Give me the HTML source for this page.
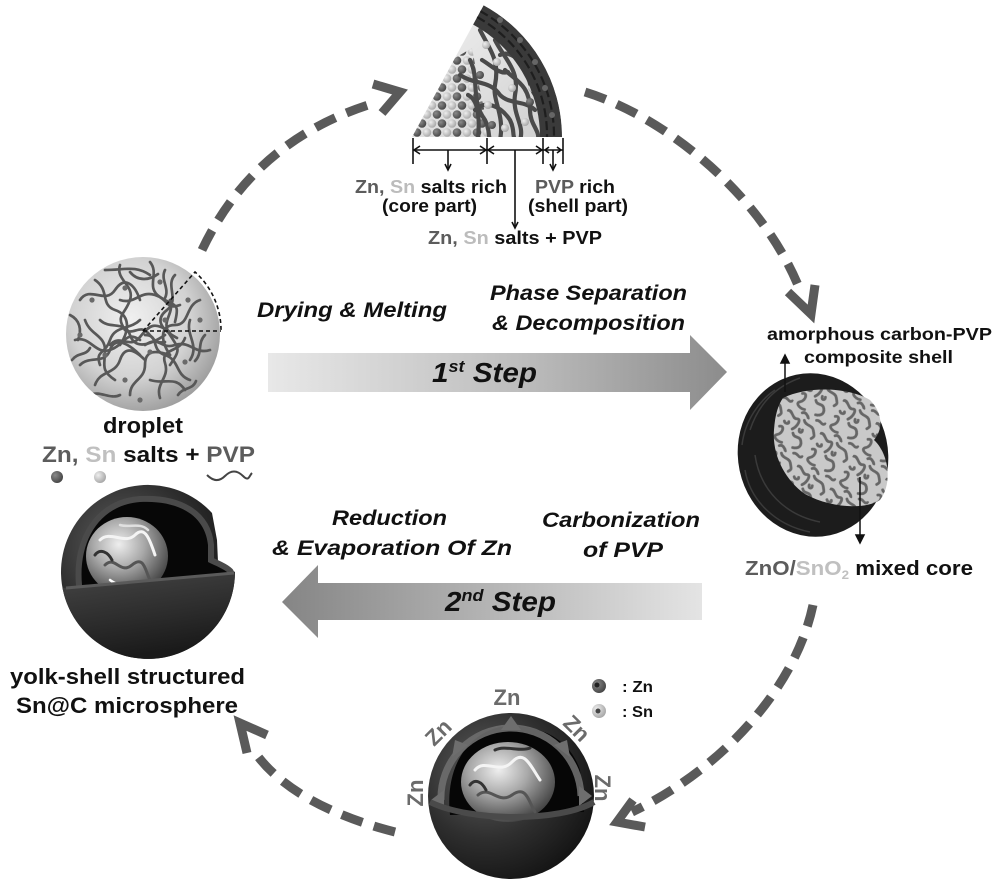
<!DOCTYPE html>
<html><head><meta charset="utf-8"><style>
html,body{margin:0;padding:0;background:#fff;}
svg{display:block;}
text{font-family:"Liberation Sans",Arial,sans-serif;font-weight:bold;}
.it{font-style:italic;}
</style></head><body>
<svg width="1000" height="885" viewBox="0 0 1000 885" xmlns="http://www.w3.org/2000/svg">
<defs>
 <linearGradient id="g1" gradientUnits="userSpaceOnUse" x1="268" y1="0" x2="727" y2="0">
  <stop offset="0" stop-color="#e8e8e8"/><stop offset="0.55" stop-color="#bdbdbd"/><stop offset="1" stop-color="#8c8c8c"/>
 </linearGradient>
 <linearGradient id="g2" gradientUnits="userSpaceOnUse" x1="282" y1="0" x2="702" y2="0">
  <stop offset="0" stop-color="#858585"/><stop offset="0.5" stop-color="#b5b5b5"/><stop offset="1" stop-color="#e4e4e4"/>
 </linearGradient>
 <radialGradient id="drop" cx="0.42" cy="0.4" r="0.65">
  <stop offset="0" stop-color="#f0f0f0"/><stop offset="0.6" stop-color="#d2d2d2"/><stop offset="1" stop-color="#999"/>
 </radialGradient>
 <radialGradient id="dark" cx="0.35" cy="0.35" r="0.75">
  <stop offset="0" stop-color="#5e5e5e"/><stop offset="0.55" stop-color="#2e2e2e"/><stop offset="1" stop-color="#111"/>
 </radialGradient>
 <linearGradient id="low" x1="0" y1="0" x2="0.3" y2="1">
  <stop offset="0" stop-color="#454545"/><stop offset="0.6" stop-color="#2c2c2c"/><stop offset="1" stop-color="#1a1a1a"/>
 </linearGradient>
 <radialGradient id="metal" cx="0.4" cy="0.35" r="0.7">
  <stop offset="0" stop-color="#eee"/><stop offset="0.45" stop-color="#a8a8a8"/><stop offset="1" stop-color="#3c3c3c"/>
 </radialGradient>
 <radialGradient id="ballD" cx="0.35" cy="0.35" r="0.7">
  <stop offset="0" stop-color="#8a8a8a"/><stop offset="1" stop-color="#444"/>
 </radialGradient>
 <radialGradient id="ballL" cx="0.35" cy="0.35" r="0.7">
  <stop offset="0" stop-color="#eee"/><stop offset="1" stop-color="#a5a5a5"/>
 </radialGradient>
 <linearGradient id="wbg" x1="0" y1="0" x2="1" y2="1">
  <stop offset="0" stop-color="#f2f2f2"/><stop offset="1" stop-color="#cfcfcf"/>
 </linearGradient>
 <pattern id="balls" patternUnits="userSpaceOnUse" width="20" height="18" x="412" y="137">
  <circle cx="5" cy="13.5" r="4.3" fill="url(#ballD)"/>
  <circle cx="15" cy="13.5" r="4.3" fill="url(#ballL)"/>
  <circle cx="0" cy="4.5" r="4.3" fill="url(#ballL)"/>
  <circle cx="20" cy="4.5" r="4.3" fill="url(#ballL)"/>
  <circle cx="10" cy="4.5" r="4.3" fill="url(#ballD)"/>
 </pattern>
 <pattern id="worm" patternUnits="userSpaceOnUse" width="40" height="40" patternTransform="rotate(35)">
  <rect width="40" height="40" fill="#c9c9c9"/>
  <g fill="none" stroke="#666" stroke-width="2.8" stroke-linecap="round">
   <path d="M1,4 C5,1 9,9 13,6 S18,12 15,17"/>
   <path d="M20,3 C24,7 29,2 33,6 S38,10 36,14"/>
   <path d="M3,22 C7,18 10,26 6,30 S9,36 14,34"/>
   <path d="M18,20 C22,24 25,18 29,22 S31,30 26,32"/>
   <path d="M24,12 C26,15 22,17 21,13"/>
   <path d="M30,36 C33,33 37,38 39,34"/>
   <path d="M8,13 C10,15 6,17 4,15"/>
   <path d="M14,38 C16,35 20,37 22,39"/>
  </g>
 </pattern>
 <clipPath id="cDrop"><circle cx="143" cy="334" r="77"/></clipPath>
 <clipPath id="cWedge"><path d="M412,137 L483.6,5.2 A150,150 0 0 1 562,137 Z"/></clipPath>
 <clipPath id="cYolk1"><ellipse cx="127" cy="556" rx="41" ry="39"/></clipPath>
 <clipPath id="cYolk2"><ellipse cx="508" cy="782" rx="47" ry="40"/></clipPath>
</defs>

<!-- ===== Top wedge ===== -->
<path d="M412,137 L483.6,5.2 A150,150 0 0 1 562,137 Z" fill="url(#wbg)"/>
<g clip-path="url(#cWedge)">
 <path d="M412,137 L455,58 L472,48 L480,90 L490,137 Z" fill="url(#balls)"/>
 <g fill="none" stroke="#4a4a4a" stroke-width="4.2" stroke-linecap="round">
  <path d="M470,60 C480,80 470,100 485,120 C490,130 488,135 490,140"/>
  <path d="M480,30 C490,50 500,60 495,85 C492,100 505,115 500,140"/>
  <path d="M495,40 C505,60 520,70 515,95 C512,115 525,125 520,140"/>
  <path d="M460,75 C475,85 490,80 500,95 C510,105 525,100 535,110"/>
  <path d="M475,110 C485,100 500,105 510,120 C515,130 512,135 515,140"/>
  <path d="M490,25 C500,35 510,30 520,45 C530,60 525,80 535,95"/>
  <path d="M505,70 C515,80 530,85 530,110 C530,125 540,130 538,140"/>
  <path d="M468,95 C478,100 480,115 478,140"/>
  <path d="M500,55 C510,50 520,60 528,70"/>
  <path d="M482,60 C492,66 500,75 508,72"/>
 </g>
 <g fill="url(#ballL)">
  <circle cx="497" cy="62" r="4"/><circle cx="512" cy="88" r="4"/><circle cx="525" cy="122" r="4"/>
  <circle cx="488" cy="105" r="4"/><circle cx="505" cy="128" r="4"/><circle cx="520" cy="58" r="4"/>
  <circle cx="486" cy="45" r="4"/><circle cx="532" cy="88" r="4"/>
 </g>
 <g fill="url(#ballD)"><circle cx="480" cy="75" r="4"/><circle cx="530" cy="102" r="4"/><circle cx="492" cy="125" r="4"/></g>
 <path d="M473,24.5 L483.6,5.2 A150,150 0 0 1 562,137 L540,137 A128,128 0 0 0 473,24.5 Z" fill="#3a3a3a"/>
 <g fill="none" stroke="#1e1e1e" stroke-width="2.2" stroke-dasharray="9 4">
  <path d="M477,17 A135,135 0 0 1 547,137"/>
  <path d="M480,11 A142,142 0 0 1 554,137"/>
 </g>
 <g fill="#666"><circle cx="500" cy="20" r="3"/><circle cx="520" cy="40" r="3"/><circle cx="535" cy="62" r="3"/><circle cx="545" cy="88" r="3"/><circle cx="552" cy="115" r="3"/></g>
</g>

<!-- dimension lines -->
<g stroke="#111" stroke-width="1.6" fill="none">
 <line x1="413" y1="150" x2="563" y2="150"/>
 <line x1="413" y1="138" x2="413" y2="164"/>
 <line x1="487" y1="138" x2="487" y2="164"/>
 <line x1="543" y1="138" x2="543" y2="164"/>
 <line x1="563" y1="138" x2="563" y2="164"/>
 <polyline points="420,146 414,150 420,154"/>
 <polyline points="480,146 486,150 480,154"/>
 <polyline points="494,146 488,150 494,154"/>
 <polyline points="536,146 542,150 536,154"/>
 <polyline points="549,147 545,150 549,153"/>
 <polyline points="557,147 561,150 557,153"/>
 <line x1="448" y1="150" x2="448" y2="170"/>
 <polyline points="445,164 448,170 451,164"/>
 <line x1="515" y1="150" x2="515" y2="228"/>
 <polyline points="512,222 515,228 518,222"/>
 <line x1="553" y1="150" x2="553" y2="170"/>
 <polyline points="550,164 553,170 556,164"/>
</g>

<text x="355" y="193" font-size="18" textLength="152" lengthAdjust="spacingAndGlyphs"><tspan fill="#5c5c5c">Zn, </tspan><tspan fill="#bcbcbc">Sn </tspan><tspan fill="#111">salts rich</tspan></text>
<text x="382" y="212" font-size="18" fill="#111" textLength="95" lengthAdjust="spacingAndGlyphs">(core part)</text>
<text x="535" y="193" font-size="18" textLength="80" lengthAdjust="spacingAndGlyphs"><tspan fill="#5c5c5c">PVP</tspan><tspan fill="#111"> rich</tspan></text>
<text x="528" y="212" font-size="18" fill="#111" textLength="100" lengthAdjust="spacingAndGlyphs">(shell part)</text>
<text x="428" y="244" font-size="18" textLength="174" lengthAdjust="spacingAndGlyphs"><tspan fill="#5c5c5c">Zn, </tspan><tspan fill="#bcbcbc">Sn </tspan><tspan fill="#111">salts + PVP</tspan></text>

<!-- ===== dashed cycle arcs ===== -->
<g fill="none" stroke="#5a5a5a" stroke-width="9" stroke-dasharray="22 12">
 <path d="M202,250 Q255,138 378,102"/>
 <path d="M585,92 C660,115 760,190 800,290"/>
 <path d="M813,605 C795,690 720,770 632,812"/>
 <path d="M395,832 C340,818 280,792 252,748"/>
</g>
<g fill="none" stroke="#5a5a5a" stroke-width="9" stroke-linejoin="miter">
 <polyline points="373,84 400,92 382,113"/>
 <polyline points="788,292 811,314 815,285"/>
 <polyline points="633,800 617,822 645,827"/>
 <polyline points="267,735 240,723 247,753"/>
</g>

<!-- ===== Droplet ===== -->
<circle cx="143" cy="334" r="77" fill="url(#drop)"/>
<g clip-path="url(#cDrop)" fill="none" stroke="#585858" stroke-width="2.7" stroke-linecap="round">
 <path d="M80,300 c10,-15 25,5 35,-10 s20,-5 25,10"/>
 <path d="M95,280 c15,10 5,25 20,30 s15,20 5,35"/>
 <path d="M120,265 c-5,15 15,20 10,35 s-15,15 -5,30"/>
 <path d="M150,262 c10,12 -5,25 10,35 s20,5 15,25"/>
 <path d="M175,275 c-10,10 5,25 -8,35 s-5,20 10,28"/>
 <path d="M200,300 c-15,5 -10,25 -25,25 s-15,15 -5,30"/>
 <path d="M75,340 c15,-5 20,15 35,10 s15,-20 30,-10"/>
 <path d="M80,365 c10,-10 25,0 30,-15 s20,-5 30,5"/>
 <path d="M95,385 c5,-15 20,-10 25,-25 s15,-10 25,0"/>
 <path d="M130,395 c0,-15 15,-15 15,-30 s10,-15 25,-10"/>
 <path d="M160,398 c-5,-15 10,-20 5,-35 s15,-10 20,-25"/>
 <path d="M190,380 c-15,-5 -10,-20 -25,-25 s-5,-20 -20,-20"/>
 <path d="M210,350 c-15,5 -20,-10 -35,-5 s-15,-10 -30,0"/>
 <path d="M100,320 c10,10 25,0 30,15 s20,10 35,0"/>
 <path d="M110,345 c10,-12 20,5 30,-8 s15,-15 30,-5"/>
 <path d="M85,320 c5,15 20,15 20,30 s-5,20 10,30"/>
 <path d="M170,300 c5,15 -10,20 0,35 s10,15 0,30"/>
 <path d="M120,300 c15,5 20,-10 35,-5 s10,15 25,10"/>
 <path d="M140,320 c-10,10 -25,5 -30,20 s-15,10 -10,25"/>
 <path d="M190,320 c-5,15 10,25 0,40"/>
 <path d="M105,270 c20,0 30,-5 45,5"/>
 <path d="M150,380 c15,5 25,-5 35,10"/>
 <path d="M70,315 c10,5 12,15 8,25"/>
 <path d="M205,335 c-8,8 -2,18 -10,26"/>
 <path d="M130,272 c8,10 20,8 28,2"/>
 <path d="M90,395 c10,-5 20,5 30,0"/>
 <path d="M165,270 c-5,10 5,18 0,28"/>
 <path d="M125,330 c8,5 15,-5 22,2 s8,12 18,10"/>
 <path d="M72,360 c6,-8 14,-4 18,-12"/>
 <path d="M178,395 c5,-8 15,-5 18,-14"/>
</g>
<g fill="#6a6a6a">
 <circle cx="92" cy="300" r="2.6"/><circle cx="125" cy="288" r="2.6"/><circle cx="160" cy="282" r="2.6"/><circle cx="188" cy="300" r="2.6"/>
 <circle cx="105" cy="355" r="2.6"/><circle cx="150" cy="352" r="2.6"/><circle cx="185" cy="362" r="2.6"/><circle cx="125" cy="380" r="2.6"/>
 <circle cx="165" cy="320" r="2.6"/><circle cx="80" cy="335" r="2.6"/><circle cx="140" cy="400" r="2.6"/><circle cx="200" cy="320" r="2.6"/>
</g>
<g fill="none" stroke="#111" stroke-width="1.6" stroke-dasharray="4 3">
 <path d="M143,331 L221,331 M143,331 L195,272 A78,78 0 0 1 221,331"/>
</g>

<text x="103" y="433" font-size="22" fill="#111" textLength="80" lengthAdjust="spacingAndGlyphs">droplet</text>
<text x="42" y="462" font-size="22" textLength="213" lengthAdjust="spacingAndGlyphs"><tspan fill="#5c5c5c">Zn, </tspan><tspan fill="#c0c0c0">Sn </tspan><tspan fill="#111">salts + </tspan><tspan fill="#5c5c5c">PVP</tspan></text>
<circle cx="57" cy="477" r="6" fill="url(#ballD)"/>
<circle cx="100" cy="477" r="6" fill="url(#ballL)"/>
<path d="M207,475 c6,6 12,7 18,1 s12,-6 18,0 s6,0 9,-3" fill="none" stroke="#444" stroke-width="2"/>

<!-- ===== Step arrows ===== -->
<path d="M268,353 L690,353 L690,335 L727,372 L690,410 L690,392 L268,392 Z" fill="url(#g1)"/>
<text x="432" y="382" font-size="28" class="it" fill="#111" textLength="105" lengthAdjust="spacingAndGlyphs">1<tspan font-size="17" dy="-10">st</tspan><tspan font-size="28" dy="10"> Step</tspan></text>
<path d="M702,583 L318,583 L318,565 L282,602 L318,638 L318,620 L702,620 Z" fill="url(#g2)"/>
<text x="445" y="611" font-size="28" class="it" fill="#111" textLength="111" lengthAdjust="spacingAndGlyphs">2<tspan font-size="17" dy="-10">nd</tspan><tspan font-size="28" dy="10"> Step</tspan></text>

<text x="257" y="317" font-size="21" class="it" fill="#111" textLength="190" lengthAdjust="spacingAndGlyphs">Drying &amp; Melting</text>
<text x="490" y="300" font-size="21" class="it" fill="#111" textLength="197" lengthAdjust="spacingAndGlyphs">Phase Separation</text>
<text x="492" y="330" font-size="21" class="it" fill="#111" textLength="193" lengthAdjust="spacingAndGlyphs">&amp; Decomposition</text>
<text x="332" y="525" font-size="21" class="it" fill="#111" textLength="115" lengthAdjust="spacingAndGlyphs">Reduction</text>
<text x="272" y="555" font-size="21" class="it" fill="#111" textLength="240" lengthAdjust="spacingAndGlyphs">&amp; Evaporation Of Zn</text>
<text x="542" y="527" font-size="21" class="it" fill="#111" textLength="158" lengthAdjust="spacingAndGlyphs">Carbonization</text>
<text x="583" y="557" font-size="21" class="it" fill="#111" textLength="80" lengthAdjust="spacingAndGlyphs">of PVP</text>

<!-- ===== Right sphere ===== -->
<ellipse cx="813" cy="455" rx="75" ry="82" transform="rotate(-12 813 455)" fill="#1c1c1c"/>
<g fill="none" stroke="#3a3a3a" stroke-width="1.5">
 <path d="M750,430 C760,400 780,385 800,378"/>
 <path d="M745,470 C750,500 775,525 810,532"/>
 <path d="M755,455 C760,490 785,515 820,522"/>
 <path d="M742,445 C745,420 760,400 775,390"/>
</g>
<path d="M783,398 C810,385 850,388 870,400 C882,412 884,428 874,440 C890,455 892,485 880,500 C865,510 830,508 805,494 C785,480 772,455 774,430 C775,415 778,405 783,398 Z" fill="url(#worm)"/>
<g stroke="#111" stroke-width="1.5" fill="#111">
 <line x1="785" y1="392" x2="785" y2="361"/>
 <polygon points="781,363 785,355 789,363"/>
 <line x1="860" y1="477" x2="860" y2="537"/>
 <polygon points="856,535 860,543 864,535"/>
</g>
<text x="767" y="340" font-size="17.5" fill="#111" textLength="225" lengthAdjust="spacingAndGlyphs">amorphous carbon-PVP</text>
<text x="804" y="363" font-size="17.5" fill="#111" textLength="149" lengthAdjust="spacingAndGlyphs">composite shell</text>
<text x="745" y="575" font-size="20" textLength="228" lengthAdjust="spacingAndGlyphs"><tspan fill="#5c5c5c">ZnO/</tspan><tspan fill="#c0c0c0">SnO</tspan><tspan fill="#c0c0c0" font-size="12" dy="4">2</tspan><tspan fill="#111" dy="-4"> mixed core</tspan></text>

<!-- ===== Yolk-shell (left bottom) ===== -->
<path d="M212,513 A87,87 0 1 0 235,572 L218,562 L217,540 Z" fill="url(#dark)"/>
<path d="M82,585 C78,540 100,505 140,502 C178,500 205,515 208,545 L208,562 C216,566 224,569 228,573 C180,580 120,584 82,585 Z" fill="#070707" stroke="#4a4a4a" stroke-width="12" paint-order="stroke" stroke-linejoin="round"/>
<ellipse cx="127" cy="556" rx="41" ry="39" fill="url(#metal)"/>
<g clip-path="url(#cYolk1)" fill="none" stroke-linecap="round">
 <path d="M100,540 C110,530 125,545 135,535 S150,540 155,555" stroke="#f4f4f4" stroke-width="3"/>
 <path d="M105,565 C115,555 120,575 132,565 S145,570 150,580" stroke="#555" stroke-width="3"/>
 <path d="M95,555 C100,548 108,552 112,560" stroke="#333" stroke-width="3"/>
 <path d="M120,525 C130,528 140,522 148,530" stroke="#e0e0e0" stroke-width="2.5"/>
 <path d="M110,580 C120,588 135,585 140,592" stroke="#fff" stroke-width="2.5"/>
</g>
<path d="M62.5,588 L233,573 L235,572 A87,87 0 0 1 62.5,588 Z" fill="url(#low)"/>
<line x1="66" y1="588" x2="234" y2="573" stroke="#5a5a5a" stroke-width="3"/>
<text x="10" y="684" font-size="22" fill="#111" textLength="235" lengthAdjust="spacingAndGlyphs">yolk-shell structured</text>
<text x="16" y="713" font-size="22" fill="#111" textLength="222" lengthAdjust="spacingAndGlyphs">Sn@C microsphere</text>

<!-- ===== Bottom sphere ===== -->
<circle cx="511" cy="796" r="83" fill="url(#dark)"/>
<path d="M450,815 C445,770 465,735 500,727 C540,722 570,740 580,770 L584,812 Z" fill="#060606"/>
<ellipse cx="508" cy="782" rx="47" ry="40" fill="url(#metal)"/>
<g clip-path="url(#cYolk2)" fill="none" stroke-linecap="round">
 <path d="M475,770 C485,758 500,775 512,762 S530,765 540,780" stroke="#f4f4f4" stroke-width="3"/>
 <path d="M478,795 C490,785 498,805 512,795 S528,800 535,812" stroke="#555" stroke-width="3"/>
 <path d="M495,750 C505,745 520,752 530,748" stroke="#333" stroke-width="3"/>
 <path d="M470,785 C475,778 482,782 486,790" stroke="#333" stroke-width="3"/>
</g>
<g fill="none" stroke="#6e6e6e" stroke-width="7" opacity="0.9">
 <path d="M441,800 A70,70 0 0 1 581,796"/>
</g>
<g fill="#6e6e6e">
 <polygon points="431,800 444,790 444,810"/>
 <polygon points="511,716 501,730 521,730"/>
 <polygon points="455,740 452,757 468,745"/>
 <polygon points="567,740 554,745 570,757"/>
 <polygon points="592,796 579,786 579,806"/>
</g>
<path d="M430,802 C470,822 560,822 594,802" fill="none" stroke="#4a4a4a" stroke-width="6"/>

<g fill="#6b6b6b" font-size="22" text-anchor="middle">
 <text x="507" y="705">Zn</text>
 <text transform="translate(438,732) rotate(-45)" y="8">Zn</text>
 <text transform="translate(415,793) rotate(-90)" y="8">Zn</text>
 <text transform="translate(577,728) rotate(45)" y="8">Zn</text>
 <text transform="translate(603,788) rotate(90)" y="8">Zn</text>
</g>
<circle cx="599" cy="686" r="7" fill="url(#ballD)"/>
<circle cx="597" cy="685" r="2.5" fill="#222"/>
<circle cx="599" cy="711" r="7" fill="url(#ballL)"/>
<circle cx="598" cy="711" r="2.5" fill="#444"/>
<text x="622" y="692" font-size="16" fill="#111" textLength="31" lengthAdjust="spacingAndGlyphs">: Zn</text>
<text x="622" y="717" font-size="16" fill="#111" textLength="31" lengthAdjust="spacingAndGlyphs">: Sn</text>
</svg>
</body></html>
